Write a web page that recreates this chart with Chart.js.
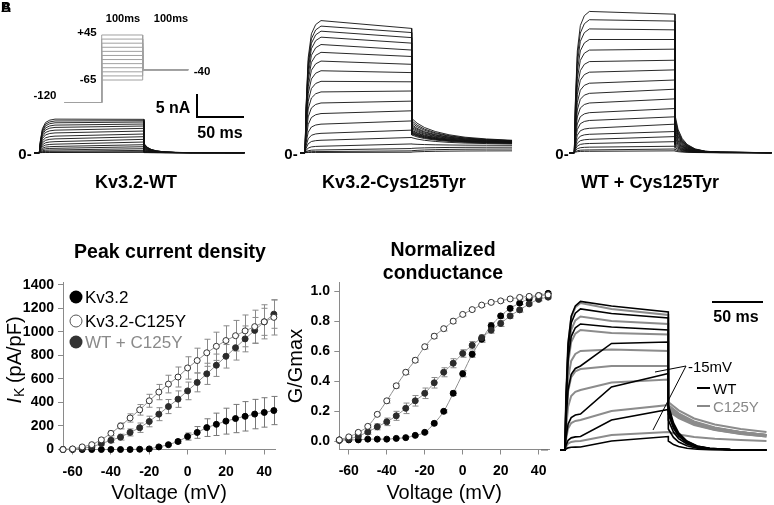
<!DOCTYPE html>
<html>
<head>
<meta charset="utf-8">
<script src="https://cdn.jsdelivr.net/npm/chart.js@4.4.1/dist/chart.umd.min.js"></script>
<style>
body { margin: 0; background: #fff; width: 774px; height: 505px; position: relative; overflow: hidden; font-family: "Liberation Sans", Arial, sans-serif; }
canvas { position: absolute; }
.t { position: absolute; white-space: nowrap; transform: translate(-50%, -50%); line-height: 1; color: #000; }
.l { position: absolute; white-space: nowrap; transform: translate(0, -50%); line-height: 1; }
.b { font-weight: bold; }
.dot { position: absolute; width: 13px; height: 13px; border-radius: 50%; transform: translate(-50%, -50%); box-sizing: border-box; }
svg { position: absolute; left: 0; top: 0; }
</style>
</head>
<body>

<canvas id="protocol" width="135" height="82" style="left:60px;top:28px"></canvas>
<canvas id="wtTraces" width="216" height="56" style="left:34px;top:100px"></canvas>
<canvas id="cysTraces" width="218" height="146" style="left:300px;top:10px"></canvas>
<canvas id="mixTraces" width="205" height="151" style="left:569px;top:5px"></canvas>
<canvas id="densityChart" width="285" height="235" style="left:0px;top:270px"></canvas>
<canvas id="gChart" width="275" height="235" style="left:280px;top:270px"></canvas>
<canvas id="overlayTraces" width="210" height="160" style="left:560px;top:295px"></canvas>

<svg width="774" height="505">
  <line x1="197" y1="94" x2="197" y2="118" stroke="#000" stroke-width="2"/>
  <line x1="196" y1="117" x2="244" y2="117" stroke="#000" stroke-width="2"/>
  <line x1="712" y1="302" x2="763" y2="302" stroke="#000" stroke-width="2"/>
  <line x1="686" y1="366" x2="655" y2="372" stroke="#000" stroke-width="1"/>
  <line x1="686" y1="366" x2="653" y2="430" stroke="#000" stroke-width="1"/>
  <line x1="697" y1="388" x2="710" y2="388" stroke="#000" stroke-width="2"/>
  <line x1="697" y1="406" x2="710" y2="406" stroke="#888" stroke-width="2"/>
  <line x1="541" y1="450" x2="548" y2="450" stroke="#666" stroke-width="1"/>
</svg>

<div class="t b" style="left:6px;top:7px;font-size:14px">A</div>
<div class="t b" style="left:6px;top:7px;font-size:14px">B</div>

<div class="t b" style="left:123px;top:18px;font-size:11px">100ms</div>
<div class="t b" style="left:171px;top:18px;font-size:11px">100ms</div>
<div class="t b" style="left:87px;top:33px;font-size:11.5px">+45</div>
<div class="t b" style="left:88px;top:80px;font-size:11.5px">-65</div>
<div class="t b" style="left:45px;top:96px;font-size:11.5px">-120</div>
<div class="t b" style="left:202px;top:72px;font-size:11.5px">-40</div>
<div class="t b" style="left:173px;top:108px;font-size:16px">5 nA</div>
<div class="t b" style="left:220px;top:133px;font-size:16px">50 ms</div>

<div class="t b" style="left:25px;top:153px;font-size:15px">0-</div>
<div class="t b" style="left:291px;top:153px;font-size:15px">0-</div>
<div class="t b" style="left:562px;top:153px;font-size:15px">0-</div>

<div class="t b" style="left:136px;top:182px;font-size:18px">Kv3.2-WT</div>
<div class="t b" style="left:394px;top:182px;font-size:18px">Kv3.2-Cys125Tyr</div>
<div class="t b" style="left:650px;top:182px;font-size:18px">WT + Cys125Tyr</div>

<div class="t b" style="left:170px;top:252px;font-size:19.5px">Peak current density</div>
<div class="t b" style="left:443px;top:250px;font-size:19.5px">Normalized</div>
<div class="t b" style="left:443px;top:273px;font-size:19.5px">conductance</div>

<div class="dot" style="left:76px;top:297px;background:#000"></div>
<div class="dot" style="left:76px;top:321px;background:#fff;border:1px solid #555"></div>
<div class="dot" style="left:76px;top:342px;background:#333"></div>
<div class="l" style="left:85px;top:297px;font-size:17px;color:#000">Kv3.2</div>
<div class="l" style="left:85px;top:321px;font-size:17px;color:#000">Kv3.2-C125Y</div>
<div class="l" style="left:85px;top:342px;font-size:17px;color:#8a8a8a">WT + C125Y</div>

<div class="t b" style="left:736px;top:317px;font-size:16px">50 ms</div>
<div class="t" style="left:710px;top:366px;font-size:15px">-15mV</div>
<div class="l" style="left:713px;top:388px;font-size:15px;color:#000">WT</div>
<div class="l" style="left:713px;top:406px;font-size:15px;color:#888">C125Y</div>

<script>
const FONT = '"Liberation Sans", Arial, sans-serif';

// ---- I-V and G-V data (mV, pA/pF, G/Gmax) ----
const voltages = [-65, -60, -55, -50, -45, -40, -35, -30, -25, -20, -15, -10, -5, 0, 5, 10, 15, 20, 25, 30, 35, 40, 45];
const voltageTicks = [-60, -40, -20, 0, 20, 40];
const densityTicks = [0, 200, 400, 600, 800, 1000, 1200, 1400];
const gTicks = [0, 0.2, 0.4, 0.6, 0.8, 1.0];

const kv32Density = [0, 0, 0, 0, 0, 0, 0, 0, 2, 5, 22, 41, 68, 110, 145, 186, 214, 241, 263, 282, 301, 315, 331];
const kv32DensityErr = [0, 0, 0, 0, 0, 0, 0, 0, 0, 2, 5, 8, 15, 30, 50, 75, 95, 110, 120, 125, 125, 125, 120];
const c125yDensity = [0, 5, 22, 41, 82, 137, 200, 268, 337, 414, 488, 556, 616, 693, 756, 822, 877, 926, 967, 1008, 1044, 1085, 1123];
const c125yDensityErr = [0, 2, 5, 10, 15, 20, 25, 35, 45, 55, 65, 75, 85, 95, 105, 115, 120, 125, 130, 135, 140, 145, 150];
const mixDensity = [0, 3, 10, 22, 50, 78, 105, 145, 185, 238, 300, 365, 428, 498, 570, 643, 716, 792, 865, 940, 1012, 1085, 1150];
const mixDensityErr = [0, 2, 5, 8, 15, 20, 25, 30, 40, 45, 55, 60, 70, 75, 80, 90, 95, 100, 105, 110, 110, 115, 120];

const kv32G = [0.01, 0.01, 0.01, 0.015, 0.015, 0.015, 0.02, 0.025, 0.04, 0.06, 0.12, 0.2, 0.32, 0.45, 0.58, 0.68, 0.77, 0.835, 0.885, 0.92, 0.95, 0.97, 0.985];
const kv32GErr = [0, 0, 0, 0, 0, 0, 0, 0, 0.005, 0.005, 0.01, 0.01, 0.015, 0.02, 0.02, 0.02, 0.02, 0.015, 0.015, 0.01, 0.01, 0.01, 0.01];
const c125yG = [0.01, 0.03, 0.06, 0.10, 0.18, 0.27, 0.37, 0.46, 0.54, 0.63, 0.70, 0.75, 0.80, 0.845, 0.877, 0.907, 0.925, 0.935, 0.948, 0.958, 0.965, 0.97, 0.975];
const c125yGErr = [0.005, 0.005, 0.01, 0.01, 0.01, 0.015, 0.015, 0.015, 0.015, 0.015, 0.015, 0.015, 0.015, 0.01, 0.01, 0.01, 0.01, 0.01, 0.01, 0.01, 0.01, 0.01, 0.01];
const mixG = [0.006, 0.015, 0.036, 0.062, 0.097, 0.13, 0.17, 0.22, 0.27, 0.32, 0.39, 0.46, 0.52, 0.585, 0.64, 0.69, 0.74, 0.785, 0.835, 0.875, 0.915, 0.945, 0.96];
const mixGErr = [0.005, 0.01, 0.01, 0.015, 0.02, 0.025, 0.03, 0.035, 0.035, 0.035, 0.035, 0.03, 0.03, 0.025, 0.025, 0.02, 0.02, 0.02, 0.015, 0.015, 0.01, 0.01, 0.01];

// ---- voltage protocol (ms, mV) ----
const protocolLevels = [-65, -55, -45, -35, -25, -15, -5, 5, 15, 25, 35, 45];
const protocolTimes = [-90, 0, 100, 211];
const holdingLevel = -120;
const tailLevel = -40;

// ---- current traces (ms, nA) ----
const riseTimes = [0, 1, 3, 6, 10, 15];
const riseShape = [0, 0.35, 0.72, 0.9, 0.97, 1];
const stepEnd = 100;

const wtEarly = [7.3, 6.9, 6.5, 6.0, 5.5, 4.9, 4.3, 3.6, 3.0, 2.4, 1.85, 1.35, 0.95, 0.6, 0.32, 0.13, 0.04];
const wtLate = [7.25, 6.96, 6.67, 6.23, 5.8, 5.29, 4.71, 4.06, 3.48, 2.9, 2.32, 1.74, 1.3, 0.87, 0.5, 0.22, 0.07];
const wtTail = [2.0, 1.9, 1.8, 1.7, 1.55, 1.4, 1.25, 1.1, 0.95, 0.8, 0.65, 0.5, 0.38, 0.26, 0.15, 0.07, 0.02];
const wtTailTimes = [100, 103, 107, 112, 120, 130, 145, 196];
const wtTailShape = [1, 0.6, 0.35, 0.2, 0.08, 0.03, 0.01, 0];

const cysEarly = [28.7, 27.5, 26.4, 25.1, 23.5, 21.8, 19.9, 17.8, 15.5, 13.2, 10.8, 8.5, 6.2, 4.2, 2.7, 1.4, 0.6, 0.25, 0.05];
const cysLate = [27.0, 26.1, 25.0, 23.8, 22.3, 20.9, 19.2, 17.4, 15.4, 13.4, 11.2, 9.1, 6.9, 4.9, 3.3, 1.9, 0.9, 0.4, 0.1];
const cysTail = [7.46, 6.96, 6.52, 6.09, 5.8, 5.5, 5.2, 4.9, 4.7, 4.5, 4.35, 4.2, 4.06, 3.84, 3.26, 1.88, 0.94, 0.43, 0.14];
const cysTailEnd = [2.7, 2.6, 2.6, 2.5, 2.5, 2.4, 2.4, 2.3, 2.3, 2.2, 2.2, 2.1, 2.1, 2.0, 1.9, 1.6, 1.2, 0.8, 0.4];
const cysTailTimes = [100, 105, 112, 122, 135, 150, 170, 194];
const cysTailShape = [1, 0.78, 0.58, 0.4, 0.25, 0.14, 0.06, 0];

const mixEarly = [30.7, 28.9, 26.9, 24.6, 22.3, 19.8, 17.5, 15.1, 12.9, 10.8, 8.7, 7.0, 5.3, 4.0, 2.9, 2.0, 1.2, 0.6, 0.3];
const mixLate = [30.1, 28.6, 26.7, 24.6, 22.5, 20.1, 18.0, 15.8, 13.8, 11.7, 9.6, 7.8, 6.2, 4.6, 3.5, 2.4, 1.4, 0.8, 0.4];
const mixTail = [8.2, 7.6, 7.1, 6.6, 6.1, 5.6, 5.1, 4.6, 4.1, 3.7, 3.3, 2.9, 2.5, 2.1, 1.8, 1.5, 1.1, 0.7, 0.35];
const mixTailTimes = [100, 103, 107, 112, 120, 130, 145, 196];
const mixTailShape = [1, 0.62, 0.38, 0.22, 0.1, 0.04, 0.015, 0];

// overlay panel, relative amplitude
const overlayMidTime = 45;
const wtOverlayEarly = [99, 94, 84, 56, 24, 9, 2];
const wtOverlayMid = [96, 91, 82, 71, 42, 20, 6];
const wtOverlayLate = [92, 88, 80, 72, 51, 27, 9];
const wtOverlayTail = [30, 28, 26, 24, 20, 14, 6];
const wtOverlayTailTimes = [100, 105, 110, 118, 128, 140, 160, 195];
const wtOverlayTailShape = [1, 0.6, 0.38, 0.2, 0.09, 0.04, 0.01, 0];
const c125yOverlayEarly = [98, 89, 80, 66, 54, 40, 20, 6];
const c125yOverlayMid = [94, 86, 78, 67, 56, 45, 26, 10];
const c125yOverlayLate = [90, 84, 77, 66, 56, 47, 30, 12];
const c125yOverlayTail = [30, 29, 28, 28, 27, 26, 32, 12];
const c125yOverlayTailEnd = [10, 10, 10, 10, 9, 9, 12, 6];
const c125yOverlayTailTimes = [100, 110, 125, 145, 170, 195];
const c125yOverlayTailShape = [1, 0.72, 0.45, 0.25, 0.1, 0];

// ---- helpers ----
function buildTraces(p) {
    return p.late.map((late, i) => {
        const pts = [{ x: -10, y: 0 }];
        riseTimes.forEach((t, k) => pts.push({ x: t, y: p.early[i] * riseShape[k] }));
        if (p.mid) pts.push({ x: overlayMidTime, y: p.mid[i] });
        pts.push({ x: stepEnd, y: late });
        const end = p.tailEnd ? p.tailEnd[i] : 0;
        p.tailTimes.forEach((t, k) => pts.push({ x: t, y: end + (p.tail[i] - end) * p.tailShape[k] }));
        return { data: pts, borderColor: p.color, borderWidth: p.width, pointRadius: 0, tension: 0, fill: false };
    });
}

function plainChart(id, xMin, xMax, yMin, yMax, datasets) {
    return new Chart(document.getElementById(id), {
        type: "line",
        data: { datasets: datasets },
        options: {
            responsive: false,
            animation: false,
            layout: { padding: 0 },
            plugins: { legend: { display: false }, tooltip: { enabled: false } },
            scales: {
                x: { type: "linear", display: false, min: xMin, max: xMax },
                y: { type: "linear", display: false, min: yMin, max: yMax }
            }
        }
    });
}

// ---- protocol ----
plainChart("protocol", -101.7, 227.6, -138.3, 62.1, protocolLevels.map(level => ({
    data: [
        { x: protocolTimes[0], y: holdingLevel },
        { x: protocolTimes[1], y: holdingLevel },
        { x: protocolTimes[1], y: level },
        { x: protocolTimes[2], y: level },
        { x: protocolTimes[2], y: tailLevel },
        { x: protocolTimes[3], y: tailLevel }
    ],
    borderColor: "#a0a0a0", borderWidth: 1, pointRadius: 0, tension: 0
})));

// ---- trace panels ----
plainChart("wtTraces", -5.06, 201.2, -0.72, 11.46, buildTraces({
    early: wtEarly, late: wtLate, tail: wtTail, tailTimes: wtTailTimes, tailShape: wtTailShape, color: "#111", width: 0.9
}));
plainChart("cysTraces", -4.69, 199.6, -0.72, 31.0, buildTraces({
    early: cysEarly, late: cysLate, tail: cysTail, tailEnd: cysTailEnd, tailTimes: cysTailTimes, tailShape: cysTailShape, color: "#111", width: 0.9
}));
plainChart("mixTraces", -5.26, 198.3, -0.72, 32.1, buildTraces({
    early: mixEarly, late: mixLate, tail: mixTail, tailTimes: mixTailTimes, tailShape: mixTailShape, color: "#111", width: 0.9
}));
plainChart("overlayTraces", -4.84, 198.4, -3.33, 103.3, buildTraces({
    early: wtOverlayEarly, mid: wtOverlayMid, late: wtOverlayLate, tail: wtOverlayTail,
    tailTimes: wtOverlayTailTimes, tailShape: wtOverlayTailShape, color: "#000", width: 1.6
}).concat(buildTraces({
    early: c125yOverlayEarly, mid: c125yOverlayMid, late: c125yOverlayLate, tail: c125yOverlayTail, tailEnd: c125yOverlayTailEnd,
    tailTimes: c125yOverlayTailTimes, tailShape: c125yOverlayTailShape, color: "#8c8c8c", width: 2
})));

// ---- I-V / G-V charts ----
const errorBars = {
    id: "errorBars",
    beforeDatasetsDraw(chart) {
        const { ctx, scales: { x, y } } = chart;
        chart.data.datasets.forEach(ds => {
            if (!ds.errors) return;
            ctx.save();
            ctx.strokeStyle = ds.errorColor;
            ctx.lineWidth = 1;
            ds.data.forEach((p, i) => {
                const e = ds.errors[i];
                if (!e) return;
                const px = Math.round(x.getPixelForValue(p.x)) + 0.5;
                const top = y.getPixelForValue(p.y + e);
                const bot = y.getPixelForValue(p.y - e);
                ctx.beginPath();
                ctx.moveTo(px, top); ctx.lineTo(px, bot);
                ctx.moveTo(px - 3, top); ctx.lineTo(px + 3, top);
                ctx.moveTo(px - 3, bot); ctx.lineTo(px + 3, bot);
                ctx.stroke();
            });
            ctx.restore();
        });
    }
};

// y title with italic I and subscript K
const ikTitle = {
    id: "ikTitle",
    afterDraw(chart) {
        const ctx = chart.ctx;
        ctx.save();
        ctx.translate(15, 90);
        ctx.rotate(-Math.PI / 2);
        ctx.fillStyle = "#000";
        ctx.textBaseline = "middle";
        const big = "20px " + FONT, it = "italic 20px " + FONT, small = "14px " + FONT;
        ctx.font = it; const w1 = ctx.measureText("I").width;
        ctx.font = small; const w2 = ctx.measureText("K").width;
        ctx.font = big; const w3 = ctx.measureText(" (pA/pF)").width;
        let x0 = -(w1 + w2 + w3) / 2;
        ctx.textAlign = "left";
        ctx.font = it; ctx.fillText("I", x0, 0); x0 += w1 + 1;
        ctx.font = small; ctx.fillText("K", x0, 5); x0 += w2 - 1;
        ctx.font = big; ctx.fillText(" (pA/pF)", x0, 0);
        ctx.restore();
    }
};

function points(values) {
    return values.map((v, i) => ({ x: voltages[i], y: v }));
}

function series(values, errors, fill, stroke, errColor, smooth) {
    return {
        data: points(values),
        errors: errors,
        errorColor: errColor,
        borderColor: "#8f8f8f",
        borderWidth: 1,
        pointRadius: 3,
        pointBorderWidth: 1,
        pointBackgroundColor: fill,
        pointBorderColor: stroke,
        tension: 0,
        cubicInterpolationMode: smooth ? "monotone" : "default",
        clip: false
    };
}

function voltageAxis(xMax, pad) {
    return {
        type: "linear", min: -65, max: xMax,
        afterBuildTicks: s => { s.ticks = voltageTicks.map(v => ({ value: v })); },
        afterFit: s => { s.height = 55.5; },
        ticks: { font: { family: FONT, size: 14, weight: "bold" }, color: "#000", padding: pad, maxRotation: 0, autoSkip: false,
            callback: v => String(v) },
        grid: { drawOnChartArea: false, tickLength: 5, color: "#8a8a8a" },
        border: { color: "#8a8a8a" },
        title: { display: true, text: "Voltage (mV)", font: { family: FONT, size: 20 }, color: "#000", padding: { top: 0, bottom: 0 } }
    };
}

new Chart(document.getElementById("densityChart"), {
    type: "line",
    data: {
        datasets: [
            series(c125yDensity, c125yDensityErr, "#fff", "#333", "#8a8a8a", false),
            series(mixDensity, mixDensityErr, "#2b2b2b", "#2b2b2b", "#8a8a8a", false),
            series(kv32Density, kv32DensityErr, "#000", "#000", "#777", false)
        ]
    },
    options: {
        responsive: false,
        animation: false,
        layout: { padding: { left: 0, top: 7.3, right: 10, bottom: 0 } },
        plugins: { legend: { display: false }, tooltip: { enabled: false } },
        scales: {
            x: voltageAxis(45.6, 9),
            y: {
                type: "linear", min: 0, max: 1420,
                afterBuildTicks: s => { s.ticks = densityTicks.map(v => ({ value: v })); },
                afterFit: s => { s.width = 63; },
                ticks: { font: { family: FONT, size: 14, weight: "bold" }, color: "#000", padding: 4, autoSkip: false,
                    callback: v => String(v) },
                grid: { drawOnChartArea: false, tickLength: 5, color: "#8a8a8a" },
                border: { color: "#8a8a8a" },
                title: { display: false }
            }
        }
    },
    plugins: [errorBars, ikTitle]
});

new Chart(document.getElementById("gChart"), {
    type: "line",
    data: {
        datasets: [
            series(c125yG, c125yGErr, "#fff", "#333", "#8a8a8a", true),
            series(mixG, mixGErr, "#2b2b2b", "#2b2b2b", "#8a8a8a", true),
            series(kv32G, kv32GErr, "#000", "#000", "#777", true)
        ]
    },
    options: {
        responsive: false,
        animation: false,
        layout: { padding: { left: 0, top: 8, right: 5.7, bottom: 0 } },
        plugins: { legend: { display: false }, tooltip: { enabled: false } },
        scales: {
            x: voltageAxis(45.5, 8.3),
            y: {
                type: "linear", min: -0.054, max: 1.056,
                afterBuildTicks: s => { s.ticks = gTicks.map(v => ({ value: v })); },
                afterFit: s => { s.width = 59.3; },
                ticks: { font: { family: FONT, size: 14, weight: "bold" }, color: "#000", padding: 4.3, autoSkip: false,
                    callback: v => v.toFixed(1) },
                grid: { drawOnChartArea: false, tickLength: 5, color: "#8a8a8a" },
                border: { color: "#8a8a8a" },
                title: { display: true, text: "G/Gmax", font: { family: FONT, size: 20 }, color: "#000", padding: { top: 4.7, bottom: 0 } }
            }
        }
    },
    plugins: [errorBars]
});
</script>
</body>
</html>
